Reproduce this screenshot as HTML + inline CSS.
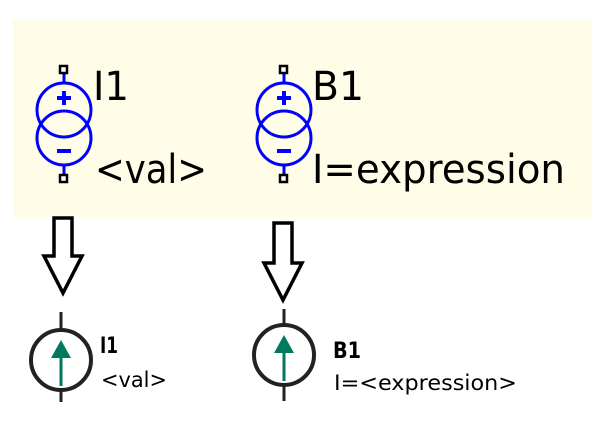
<!DOCTYPE html>
<html><head><meta charset="utf-8"><style>
html,body{margin:0;padding:0;background:#fff;}
svg{display:block;}
</style></head><body>
<svg width="603" height="425" viewBox="0 0 603 425" xmlns="http://www.w3.org/2000/svg">
<rect x="13" y="19" width="579" height="198" fill="#fffde8"/>
<g stroke="#0000ff" stroke-width="3" fill="none">
<line x1="64" y1="72" x2="64" y2="82"/><line x1="64" y1="166" x2="64" y2="176"/>
<circle cx="64" cy="110" r="27"/><circle cx="64" cy="138" r="27"/>
<line x1="57" y1="98" x2="71" y2="98" stroke-width="4"/><line x1="64" y1="91" x2="64" y2="105" stroke-width="4"/>
<line x1="57" y1="151" x2="71" y2="151" stroke-width="4"/>
<line x1="284" y1="72" x2="284" y2="82"/><line x1="284" y1="166" x2="284" y2="176"/>
<circle cx="284" cy="110" r="27"/><circle cx="284" cy="138" r="27"/>
<line x1="277" y1="98" x2="291" y2="98" stroke-width="4"/><line x1="284" y1="91" x2="284" y2="105" stroke-width="4"/>
<line x1="277" y1="151" x2="291" y2="151" stroke-width="4"/>
</g>
<g fill="#fff" stroke="#000" stroke-width="2.5">
<rect x="60" y="66" width="7" height="7"/><rect x="60" y="175" width="7" height="7"/>
<rect x="280" y="66" width="7" height="7"/><rect x="280" y="175" width="7" height="7"/>
</g>
<g font-family="'DejaVu Sans','Liberation Sans',sans-serif" font-size="40" fill="#000">
<text x="93" y="100" textLength="36" lengthAdjust="spacingAndGlyphs">I1</text>
<text x="95" y="183" textLength="112" lengthAdjust="spacingAndGlyphs">&lt;val&gt;</text>
<text x="312" y="100" textLength="52" lengthAdjust="spacingAndGlyphs">B1</text>
<text x="312" y="183" textLength="253" lengthAdjust="spacingAndGlyphs">I=expression</text>
</g>
<g fill="#fff" stroke="#000" stroke-width="3.5" stroke-linejoin="miter">
<polygon points="54,218 72,218 72,256 82,256 63,293 44,256 54,256"/>
<polygon points="274,223 292,223 292,263 302,263 283,300 264,263 274,263"/>
</g>
<g stroke="#222" stroke-width="3" fill="none">
<line x1="61" y1="312" x2="61" y2="329"/><line x1="61" y1="391" x2="61" y2="402"/>
<circle cx="61" cy="360" r="30" stroke-width="4"/>
<line x1="284" y1="309" x2="284" y2="324"/><line x1="284" y1="386" x2="284" y2="401"/>
<circle cx="284" cy="355" r="30" stroke-width="4"/>
</g>
<g fill="#007a5e" stroke="#007a5e">
<line x1="61" y1="352" x2="61" y2="386" stroke-width="3"/>
<polygon points="61,340 51,358 71,358" stroke="none"/>
<line x1="284" y1="347" x2="284" y2="381" stroke-width="3"/>
<polygon points="284,335 274,353 294,353" stroke="none"/>
</g>
<g font-family="'DejaVu Sans','Liberation Sans',sans-serif" fill="#000">
<text x="100" y="353" font-size="22" font-weight="bold" textLength="18" lengthAdjust="spacingAndGlyphs">I1</text>
<text x="101" y="387" font-size="21" textLength="66" lengthAdjust="spacingAndGlyphs">&lt;val&gt;</text>
<text x="333" y="358" font-size="22" font-weight="bold" textLength="28" lengthAdjust="spacingAndGlyphs">B1</text>
<text x="334" y="390" font-size="21" textLength="183" lengthAdjust="spacingAndGlyphs">I=&lt;expression&gt;</text>
</g>
</svg>
</body></html>
